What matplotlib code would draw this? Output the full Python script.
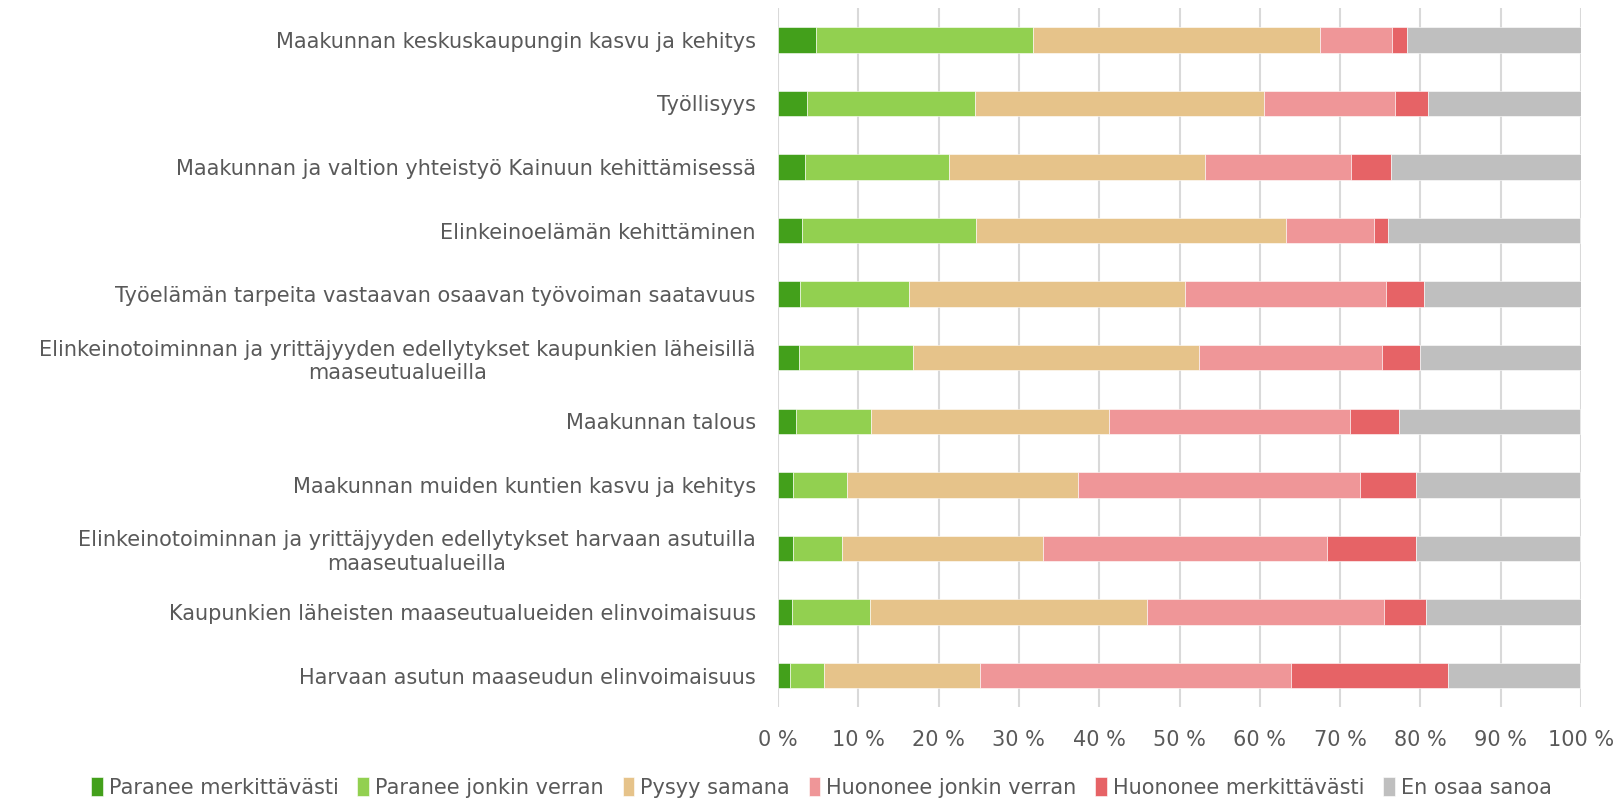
import numpy as np
import matplotlib.pyplot as plt
import matplotlib.ticker as ticker

# ── DATA (percent of respondents) ─────────────────────────────────────────
categories = [
    "Maakunnan keskuskaupungin kasvu ja kehitys",
    "Työllisyys",
    "Maakunnan ja valtion yhteistyö Kainuun kehittämisessä",
    "Elinkeinoelämän kehittäminen",
    "Työelämän tarpeita vastaavan osaavan työvoiman saatavuus",
    "Elinkeinotoiminnan ja yrittäjyyden edellytykset kaupunkien läheisillä\nmaaseutualueilla",
    "Maakunnan talous",
    "Maakunnan muiden kuntien kasvu ja kehitys",
    "Elinkeinotoiminnan ja yrittäjyyden edellytykset harvaan asutuilla\nmaaseutualueilla",
    "Kaupunkien läheisten maaseutualueiden elinvoimaisuus",
    "Harvaan asutun maaseudun elinvoimaisuus",
]

series_names = [
    "Paranee merkittävästi",
    "Paranee jonkin verran",
    "Pysyy samana",
    "Huononee jonkin verran",
    "Huononee merkittävästi",
    "En osaa sanoa",
]

paranee_merk   = [4.8, 3.6, 3.4, 3.0, 2.8, 2.6, 2.2, 1.9, 1.9, 1.7, 1.5]
paranee_jonkin = [26.9, 20.9, 17.9, 21.7, 13.5, 14.2, 9.4, 6.7, 6.1, 9.8, 4.2]
pysyy          = [35.8, 36.0, 31.9, 38.6, 34.4, 35.6, 29.6, 28.8, 25.0, 34.5, 19.5]
huononee_jonk  = [9.0, 16.3, 18.2, 10.9, 25.0, 22.8, 30.0, 35.1, 35.4, 29.4, 38.7]
huononee_merk  = [1.8, 4.1, 4.9, 1.8, 4.8, 4.7, 6.1, 7.0, 11.0, 5.3, 19.5]
en_osaa        = [21.7, 19.1, 23.8, 23.9, 19.6, 20.1, 22.6, 20.4, 20.5, 19.3, 16.5]
# ──────────────────────────────────────────────────────────────────────────

colors = ["#43A01B", "#92D050", "#E6C38A", "#EF9698", "#E66366", "#BFBFBF"]
TEXT = "#595959"

plt.rcParams.update({
    "font.family": ["DejaVu Sans"],
    "font.size": 15,
    "text.color": TEXT,
    "xtick.color": TEXT,
    "ytick.color": TEXT,
})

fig = plt.figure(figsize=(16.14, 8.02), dpi=100)
ax = fig.add_axes([0.482, 0.118, 0.4976, 0.872])

values = [paranee_merk, paranee_jonkin, pysyy, huononee_jonk, huononee_merk, en_osaa]
y = np.arange(len(categories))
left = np.zeros(len(categories))
for name, vals, col in zip(series_names, values, colors):
    vals = np.array(vals)
    ax.barh(y, vals, left=left, height=0.4, color=col, label=name,
            edgecolor="white", linewidth=0.4, zorder=3)
    left += vals

ax.set_xlim(0, 100)
ax.set_ylim(len(categories) - 0.5, -0.5)
ax.set_yticks(y)
ax.set_yticklabels(categories, fontsize=15, multialignment="center")
ax.set_xticks(np.arange(0, 101, 10))
ax.xaxis.set_major_formatter(ticker.FuncFormatter(lambda v, _: f"{v:.0f} %"))
ax.tick_params(axis="x", labelsize=15, length=0, pad=16)
ax.tick_params(axis="y", length=0, pad=16)

for s in ax.spines.values():
    s.set_visible(False)
ax.grid(axis="x", color="#D9D9D9", linewidth=1.5, zorder=0)
ax.set_axisbelow(True)

fig.legend(loc="lower center", bbox_to_anchor=(0.509, -0.018), ncol=6,
           frameon=False, fontsize=15, handlelength=0.55, handleheight=1.0,
           handletextpad=0.3, columnspacing=0.9)

fig.savefig("out.png", dpi=100)
